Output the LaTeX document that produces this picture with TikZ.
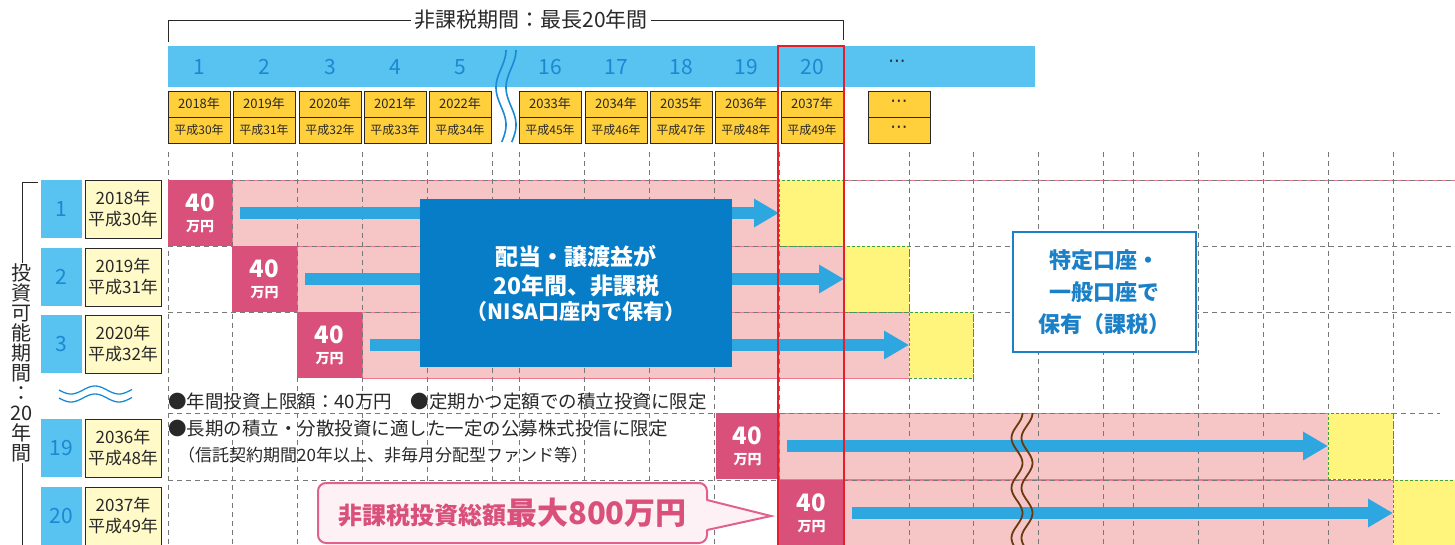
\documentclass[tikz,border=0pt]{standalone}
\usepackage{fontspec}
\setmainfont{Noto Sans CJK JP}
\newfontfamily\dotfont{DejaVu Sans}
\usetikzlibrary{arrows.meta}

\definecolor{barblue}{RGB}{88,194,240}
\definecolor{numblue}{RGB}{27,136,210}
\definecolor{yearyel}{RGB}{255,208,60}
\definecolor{labelyel}{RGB}{255,250,200}
\definecolor{amtpink}{RGB}{217,80,122}
\definecolor{rowpink}{RGB}{246,198,198}
\definecolor{rowline}{RGB}{235,120,140}
\definecolor{flowblue}{RGB}{46,166,223}
\definecolor{deepblue}{RGB}{7,124,199}
\definecolor{taxblue}{RGB}{26,128,200}
\definecolor{keepyel}{RGB}{255,244,124}
\definecolor{keepgreen}{RGB}{60,160,75}
\definecolor{framered}{RGB}{228,30,42}
\definecolor{gridgray}{RGB}{120,120,120}
\definecolor{callfill}{RGB}{253,241,246}
\definecolor{callline}{RGB}{224,98,138}
\definecolor{waveblue}{RGB}{26,138,212}
\definecolor{cutbrown}{RGB}{105,58,16}
\definecolor{inkgray}{RGB}{40,40,40}

\begin{document}
\begin{tikzpicture}[x=1pt,y=-1pt,
    cell/.style={anchor=north west,inner sep=0pt,outer sep=0pt},
    yearbox/.style={cell,fill=yearyel,draw=inkgray,line width=0.8pt,minimum width=62pt,minimum height=26pt,text=inkgray},
    colnum/.style={text=numblue,font=\fontsize{21}{21}\selectfont},
    gridline/.style={gridgray,line width=0.9pt,dash pattern=on 5pt off 4pt},
    rowfill/.style={cell,fill=rowpink,draw=rowline,line width=0.8pt,minimum height=66pt},
    amtbox/.style={cell,fill=amtpink,minimum height=66pt,text=white,align=center,font=\bfseries\fontsize{24}{20}\selectfont},
    keepbox/.style={cell,fill=keepyel,draw=keepgreen,line width=0.8pt,dash pattern=on 3pt off 2pt,minimum height=66pt},
    flow/.style={flowblue,line width=12pt,-{Triangle[length=25pt,width=27pt]}},
    rownum/.style={cell,fill=barblue,minimum width=41pt,minimum height=58pt,text=numblue,font=\fontsize{21}{21}\selectfont},
    rowlabel/.style={cell,fill=labelyel,draw=inkgray,line width=1pt,minimum width=76pt,minimum height=58pt,align=center,text=inkgray,font=\fontsize{17}{21}\selectfont},
    note/.style={anchor=west,inner sep=0pt,text=inkgray,font=\fontsize{18.5}{18.5}\selectfont}]
    \useasboundingbox (0,0) rectangle (1455,544);

    % header
    \node[cell,fill=barblue,minimum width=867pt,minimum height=41pt] (bar) at (168,46) {};
    \node[font=\fontsize{21}{21}\selectfont,text=inkgray] (ttl) at (531,20) {非課税期間：最長20年間};
    \coordinate (tl) at (168,42);
    \coordinate (tr) at (843,40);
    \draw[inkgray,line width=1pt] (tl) |- (ttl.west);
    \draw[inkgray,line width=1pt] (ttl.east) -| (tr);

    \foreach \x/\n/\yr/\hs in {168/1/2018/30, 233/2/2019/31, 299/3/2020/32, 364/4/2021/33, 429/5/2022/34,
                               519/16/2033/45, 585/17/2034/46, 650/18/2035/47, 715/19/2036/48, 781/20/2037/49} {
      \node[colnum] (c\n) at (\x+31,67) {\n};
      \node[yearbox,font=\fontsize{13}{13}\selectfont] (ya\n) at (\x,91) {\yr{}年};
      \node[yearbox,font=\fontsize{12}{12}\selectfont] (yb\n) at (\x,117) {平成\hs{}年};
    }
    \node[text=inkgray,font=\dotfont\fontsize{18}{18}\selectfont] (ce) at (897,64) {···};
    \node[yearbox,font=\dotfont\fontsize{18}{18}\selectfont] (yae) at (868,91) {···};
    \node[yearbox,font=\dotfont\fontsize{18}{18}\selectfont] (ybe) at (868,117) {···};

    \draw[waveblue,line width=1.6pt] plot[domain=50:142,samples=50,smooth] ({501+5*cos((\x-50)*4.8)},\x);
    \draw[waveblue,line width=1.6pt] plot[domain=50:142,samples=50,smooth] ({511+5*cos((\x-50)*4.8)},\x);

    % rows
    \foreach \rw/\tp/\al/\ar/\kl/\kr in {1/180/168/232/779/844, 2/246/232/297/844/909, 3/312/297/362/909/973,
                                         19/413/716/779/1328/1393, 20/480/779/844/1393/1455}
      \node[rowfill,minimum width={\kl-\ar}] (p\rw) at (\ar,\tp) {};
    \draw[rowline,line width=0.8pt] (844,180) -- (1455,180);

    \foreach \gx in {168,232,297,362,427,492,519,584,649,714,779,844,909,973,1038,1103,1133,1198,1263,1328,1393}
      \draw[gridline] (\gx,152) -- (\gx,546);
    \foreach \gy/\ga/\gb in {180/168/1455, 246/168/1455, 312/168/1455, 413/168/1440, 480/168/1455}
      \draw[gridline] (\ga,\gy) -- (\gb,\gy);

    \foreach \rw/\tp/\al/\ar/\kl/\kr in {1/180/168/232/779/844, 2/246/232/297/844/909, 3/312/297/362/909/973,
                                         19/413/716/779/1328/1393, 20/480/779/844/1393/1455} {
      \node[amtbox,minimum width={\ar-\al}] (m\rw) at (\al,\tp) {40\\{\fontsize{14}{14}\selectfont 万円}};
      \node[keepbox,minimum width={\kr-\kl}] (k\rw) at (\kl,\tp) {};
      \coordinate (s\rw) at (\ar+8,\tp+33);
      \draw[flow] (s\rw) -- (k\rw.west);
    }

    \draw[cutbrown,line width=1.8pt] plot[domain=413:546,samples=60,smooth] ({1017+5.5*cos((\x-413)*7.2)},\x);
    \draw[cutbrown,line width=1.8pt] plot[domain=413:546,samples=60,smooth] ({1027+5.5*cos((\x-413)*7.2)},\x);

    \draw[framered,line width=2.5pt] (778,46) rectangle (844,548);

    % boxes
    \node[cell,fill=deepblue,minimum width=312pt,minimum height=168pt,text=white,align=center,
          font=\bfseries\fontsize{23}{29}\selectfont] (nisa) at (420,199)
          {配当・譲渡益が\\20年間、非課税\\[-4pt]{\fontsize{21}{21}\selectfont （NISA口座内で保有）}};
    \node[cell,fill=white,draw=taxblue,line width=2.5pt,minimum width=183pt,minimum height=120pt,text=taxblue,align=center,
          font=\bfseries\fontsize{22}{32}\selectfont] (tax) at (1013,232)
          {特定口座・\\一般口座で\\保有（課税）};

    % row labels
    \foreach \rw/\tp/\yr/\hs in {1/180/2018/30, 2/248/2019/31, 3/315/2020/32, 19/419/2036/48, 20/487/2037/49} {
      \node[rownum] (n\rw) at (41,\tp) {\rw};
      \node[rowlabel] (l\rw) at (85,\tp) {\yr{}年\\平成\hs{}年};
    }
    \node[align=center,inner sep=1pt,text=inkgray,font=\fontsize{20}{20}\selectfont] (vt) at (22,363)
      {投\\資\\可\\能\\期\\間\\：\\20\\年\\間};
    \draw[inkgray,line width=1pt] (38,182) -| (vt.north);
    \draw[inkgray,line width=1pt] (vt.south) -- (22,546);
    \draw[waveblue,line width=1.3pt] plot[domain=59:132,samples=60,smooth] (\x,{390+4*sin((\x-59)*7.5)});
    \draw[waveblue,line width=1.3pt] plot[domain=59:132,samples=60,smooth] (\x,{398+4*sin((\x-59)*7.5)});

    % notes
    \node[note] (nt1) at (168,401) {●年間投資上限額：40万円　●定期かつ定額での積立投資に限定};
    \node[note] (nt2) at (168,429) {●長期の積立・分散投資に適した一定の公募株式投信に限定};
    \node[note,font=\fontsize{17}{17}\selectfont] (nt3) at (178,455) {（信託契約期間20年以上、非毎月分配型ファンド等）};

    % callout
    \node[cell,fill=callfill,draw=callline,line width=2pt,rounded corners=8pt,minimum width=389pt,minimum height=60pt,
          text=amtpink,font=\bfseries] (cal) at (318,483)
          {{\fontsize{24}{24}\selectfont 非課税投資総額}{\fontsize{31}{31}\selectfont 最大800万円}};
    \coordinate (tip) at (771,516);
    \fill[callfill] ([xshift=-3pt,yshift=13pt]cal.east) -- (tip) -- ([xshift=-3pt,yshift=-17pt]cal.east) -- cycle;
    \draw[callline,line width=2pt] ([yshift=13pt]cal.east) -- (tip) -- ([yshift=-17pt]cal.east);
\end{tikzpicture}
\end{document}
